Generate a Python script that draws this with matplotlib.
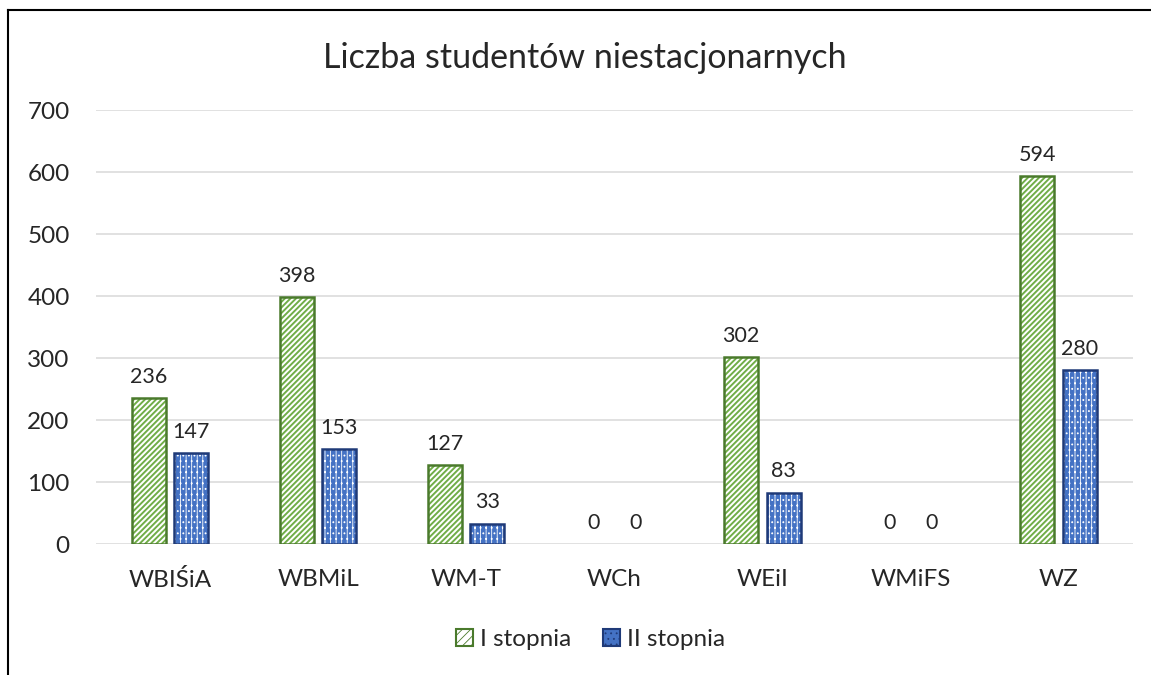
import numpy as np
import matplotlib
matplotlib.use("Agg")
import matplotlib.pyplot as plt
from matplotlib.lines import Line2D
from matplotlib.patches import Patch

categories = ["WBIŚiA", "WBMiL", "WM-T", "WCh", "WEiI", "WMiFS", "WZ"]
first_degree = [236, 398, 127, 0, 302, 0, 594]
second_degree = [147, 153, 33, 0, 83, 0, 280]
series_names = ["I stopnia", "II stopnia"]
yticks = [0, 100, 200, 300, 400, 500, 600, 700]

INK = "#262626"
GREEN_LIGHT = "#70ad47"
GREEN_EDGE = "#4a7a2c"
BLUE = "#4472c4"
BLUE_EDGE = "#1f3a78"
GRID = "#d9d9d9"

plt.rcParams["font.family"] = ["Lato", "DejaVu Sans"]

fig = plt.figure(figsize=(11.51, 6.75), dpi=100)
ax = fig.add_axes([0.0834, 0.194, 0.9006, 0.643])

x = np.arange(len(categories))
w = 0.23
off = 0.143

def outline_widths(vals):
    return [1.8 if v > 0 else 0 for v in vals]

# green: white bar with green stripes, dark outline
plt.rcParams["hatch.linewidth"] = 1.4
ax.bar(x - off, first_degree, w, color="white", edgecolor=GREEN_LIGHT, hatch="//////", lw=0, zorder=2)
green_key = Patch(facecolor="white", edgecolor=GREEN_EDGE, hatch="////", lw=1.5)
ax.bar(x - off, first_degree, w, fill=False, edgecolor=GREEN_EDGE,
       lw=outline_widths(first_degree), zorder=3)
# blue: blue bar with white dots, dark outline
plt.rcParams["hatch.linewidth"] = 0.6
ax.bar(x + off, second_degree, w, color=BLUE, edgecolor="white", hatch="|||...", lw=0, zorder=2)
blue_key = Patch(facecolor=BLUE, edgecolor=BLUE_EDGE, hatch="...", lw=1.5)
ax.bar(x + off, second_degree, w, fill=False, edgecolor=BLUE_EDGE,
       lw=outline_widths(second_degree), zorder=3)

for xi, v in zip(x - off, first_degree):
    ax.annotate(str(v), (xi, v), xytext=(0, 8), textcoords="offset points",
                ha="center", va="bottom", fontsize=15.5, color=INK)
for xi, v in zip(x + off, second_degree):
    ax.annotate(str(v), (xi, v), xytext=(0, 8), textcoords="offset points",
                ha="center", va="bottom", fontsize=15.5, color=INK)

ax.set_xlim(-0.5, len(categories) - 0.5)
ax.set_ylim(0, 700)
ax.set_yticks(yticks)
ax.set_xticks(x)
ax.set_xticklabels(categories)
ax.tick_params(axis="both", length=0, labelsize=17.5, colors=INK)
ax.tick_params(axis="y", pad=19)
ax.tick_params(axis="x", pad=18)
ax.yaxis.grid(True, color=GRID, lw=1.1, zorder=0)
ax.set_axisbelow(True)
for s in ax.spines.values():
    s.set_visible(False)

fig.text(0.508, 0.914, "Liczba studentów niestacjonarnych", ha="center", va="center",
         fontsize=24.5, color=INK)

leg = fig.legend([green_key, blue_key], series_names, loc="center", bbox_to_anchor=(0.513, 0.052),
                 ncol=2, frameon=False, fontsize=17.5, handlelength=0.7, handleheight=0.7,
                 handletextpad=0.3, columnspacing=1.3, labelcolor=INK)

# outer frame: only left and top edges visible
fig.add_artist(Line2D([8 / 1151, 8 / 1151], [0, 1 - 10 / 675], color="black", lw=1.5,
                      transform=fig.transFigure))
fig.add_artist(Line2D([8 / 1151, 1], [1 - 10 / 675, 1 - 10 / 675], color="black", lw=1.5,
                      transform=fig.transFigure))

fig.savefig("out.png", dpi=100, facecolor="white")
